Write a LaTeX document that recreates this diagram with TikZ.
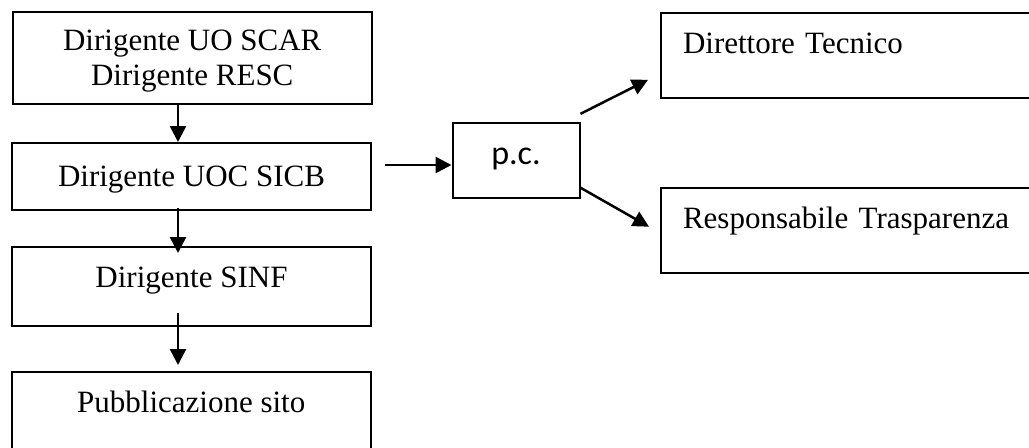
\documentclass[tikz,border=0pt]{standalone}
\usepackage{fontspec}
\setmainfont{Liberation Serif}
\newfontfamily\pcsans{Carlito}
\usepackage{tikz}
\usetikzlibrary{arrows.meta,positioning}
\tikzset{
  box/.style={draw,line width=1pt,inner sep=0pt,align=center,
    font=\fontsize{15.5}{17.5}\selectfont,text height=11pt},
  sidebox/.style={box,align=left,inner xsep=11.25pt,text width=197pt,
    minimum height=42.5pt,text depth=13pt},
  arr/.style={-{Triangle[length=8pt,width=8pt]},line width=1.25pt}
}

\begin{document}
\begin{tikzpicture}[x=0.5pt,y=-0.5pt]
  \clip (0,0) rectangle (1029,447);
  \node[draw,line width=1pt,inner sep=0pt,align=center,
    font=\fontsize{15.5}{17.5}\selectfont,
    minimum width=179.75pt,minimum height=45.75pt] (scar) at (192.25,57.75)
    {\rule{0pt}{13.5pt}Dirigente UO SCAR\\Dirigente RESC};
  \node[box,minimum width=179.5pt,minimum height=33.5pt,text depth=0.8pt]
    (sicb) at (191.5,176.5) {Dirigente UOC SICB};
  \node[box,minimum width=179.5pt,minimum height=39.5pt,text depth=9.7pt]
    (sinf) at (191.5,286.5) {Dirigente SINF};
  \node[box,minimum width=179.25pt,minimum height=39.5pt,text depth=9.7pt]
    (sito) at (191.25,411.5) {Pubblicazione sito};

  \node[box,font=\pcsans\fontsize{17}{20}\selectfont,
    minimum width=63.5pt,minimum height=37.5pt,text depth=7pt]
    (pc) at (516,160) {p.c.};

  \node[sidebox] (dt) at (880,55.6) {Direttore Tecnico};
  \node[sidebox] (rt) at (880,230) {Responsabile Trasparenza};

  % vertical chain
  \coordinate (spine) at (178,0);
  \draw[arr] (spine |- scar.south) -- (spine |- sicb.north);
  \draw[arr,shorten <=-1.5pt,shorten >=-3.5pt]
    (spine |- sicb.south) -- (spine |- sinf.north);
  \draw[arr,shorten <=-7pt,shorten >=3pt]
    (spine |- sinf.south) -- (spine |- sito.north);

  % copy to
  \draw[arr] ([xshift=6.5pt,yshift=5.75pt]sicb.east) -- ([yshift=-2.5pt]pc.west);
  \draw[arr] ([yshift=3.85pt]pc.north east) -- ([xshift=-5.75pt,yshift=9.65pt]dt.south west);
  \draw[arr] ([yshift=5.4pt]pc.south east) -- ([xshift=-5.25pt,yshift=1.65pt]rt.west);
\end{tikzpicture}
\end{document}
